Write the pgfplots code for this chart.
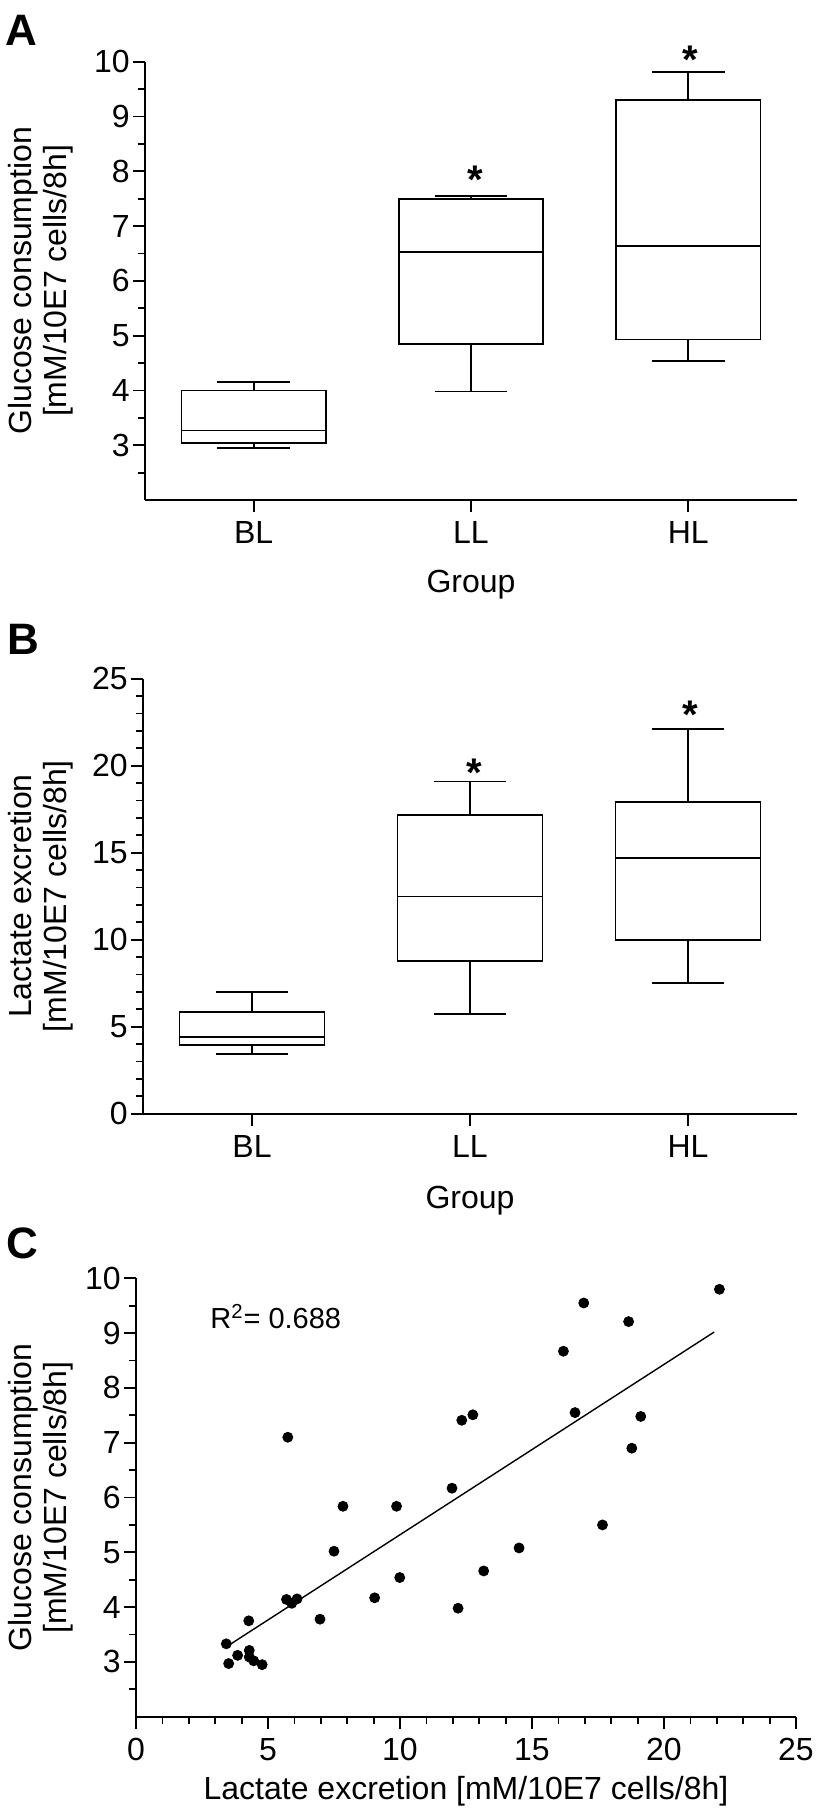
\documentclass[border=0pt]{standalone}
\usepackage{fontspec}
\setmainfont{Liberation Sans}
\usepackage{pgfplots}
\pgfplotsset{compat=1.18}
\usepgfplotslibrary{statistics}

\pgfplotsset{
  panel/.style={
    scale only axis,
    axis lines*=left,
    axis line style={-, line width=0.9pt},
    tick align=outside,
    major tick length=6pt,
    minor tick length=3.5pt,
    tick style={black, line width=0.9pt},
    tick label style={font=\fontsize{16}{16}\selectfont, inner sep=0pt},
    yticklabel style={xshift=-1.5pt},
    xticklabel style={yshift=-4.5pt},
    /pgf/number format/assume math mode=true,
    label style={font=\fontsize{16}{17.5}\selectfont, inner sep=0pt},
    ylabel style={align=center, anchor=south},
    xlabel style={anchor=north},
    clip=false,
  },
  bx/.style={black, solid, line width=0.85pt},
  star/.style={draw=none, nodes near coords={\fontsize{20}{20}\selectfont\bfseries *},
    every node near coord/.style={anchor=center, inner sep=0pt}},
}

\begin{document}
\begin{tikzpicture}
\path[use as bounding box] (0,0) rectangle (408pt,-907.5pt);

% Panel letters
\node[anchor=north west, inner sep=0pt, font=\fontsize{22}{22}\selectfont\bfseries] at (2.5pt,-7.5pt) {A};
\node[anchor=north west, inner sep=0pt, font=\fontsize{22}{22}\selectfont\bfseries] at (3.5pt,-312pt) {B};
\node[anchor=north west, inner sep=0pt, font=\fontsize{22}{22}\selectfont\bfseries] at (3pt,-613.5pt) {C};

% ---------------- Panel A ----------------
\begin{axis}[panel,
  at={(72.5pt,-250pt)}, anchor=south west,
  width=326pt, height=219.15pt,
  xmin=0.5, xmax=3.5, ymin=2, ymax=10,
  xtick={1,2,3}, xticklabels={BL,LL,HL},
  ytick={3,4,5,6,7,8,9,10},
  minor ytick={2.5,3.5,4.5,5.5,6.5,7.5,8.5,9.5},
  xlabel={Group},
  ylabel={Glucose consumption\\{[mM/10E7 cells/8h]}},
  xlabel style={at={(axis description cs:0.5,-0.158)}},
  ylabel style={at={(axis description cs:-0.1089,0.5)}},
  boxplot/draw direction=y,
  boxplot/box extend=0.664, boxplot/whisker extend=0.334,
]
\addplot[bx, boxplot prepared={draw position=1, lower whisker=2.95, lower quartile=3.04, median=3.27, upper quartile=4.00, upper whisker=4.15}] coordinates {};
\addplot[bx, boxplot prepared={draw position=2, lower whisker=3.98, lower quartile=4.85, median=6.53, upper quartile=7.49, upper whisker=7.55}] coordinates {};
\addplot[bx, boxplot prepared={draw position=3, lower whisker=4.54, lower quartile=4.93, median=6.64, upper quartile=9.30, upper whisker=9.81}] coordinates {};
\addplot[star] coordinates {(2.02,7.84) (3.01,10.03)};
\end{axis}

% ---------------- Panel B ----------------
\begin{axis}[panel,
  at={(71.5pt,-556.8pt)}, anchor=south west,
  width=327pt, height=217.5pt,
  xmin=0.5, xmax=3.5, ymin=0, ymax=25,
  xtick={1,2,3}, xticklabels={BL,LL,HL},
  ytick={0,5,10,15,20,25},
  minor y tick num=4,
  xlabel={Group},
  ylabel={Lactate excretion\\{[mM/10E7 cells/8h]}},
  xlabel style={at={(axis description cs:0.5,-0.1655)}},
  ylabel style={at={(axis description cs:-0.1055,0.5)}},
  boxplot/draw direction=y,
  boxplot/box extend=0.664, boxplot/whisker extend=0.334,
]
\addplot[bx, boxplot prepared={draw position=1, lower whisker=3.43, lower quartile=3.94, median=4.39, upper quartile=5.85, upper whisker=6.98}] coordinates {};
\addplot[bx, boxplot prepared={draw position=2, lower whisker=5.73, lower quartile=8.76, median=12.48, upper quartile=17.16, upper whisker=19.09}] coordinates {};
\addplot[bx, boxplot prepared={draw position=3, lower whisker=7.49, lower quartile=9.98, median=14.70, upper quartile=17.92, upper whisker=22.10}] coordinates {};
\addplot[star] coordinates {(2.02,19.6) (3.01,22.95)};
\end{axis}

% ---------------- Panel C ----------------
\begin{axis}[panel,
  at={(68pt,-858.35pt)}, anchor=south west,
  width=330pt, height=219.2pt,
  xmin=0, xmax=25, ymin=2, ymax=10,
  xtick={0,5,10,15,20,25}, minor x tick num=4,
  ytick={3,4,5,6,7,8,9,10},
  minor ytick={2.5,3.5,4.5,5.5,6.5,7.5,8.5,9.5},
  xlabel={Lactate excretion [mM/10E7 cells/8h]},
  ylabel={Glucose consumption\\{[mM/10E7 cells/8h]}},
  xlabel style={at={(axis description cs:0.5,-0.135)}},
  ylabel style={at={(axis description cs:-0.0939,0.5)}},
]
\addplot[only marks, mark=*, mark size=2.5pt, black] coordinates {
(22.10,9.80) (16.96,9.55) (18.66,9.21) (16.19,8.67) (16.63,7.55)
(12.34,7.41) (12.76,7.51) (19.12,7.48) (5.75,7.10) (18.78,6.90)
(11.97,6.17) (7.84,5.84) (9.87,5.84) (17.67,5.50) (7.50,5.02)
(14.51,5.08) (9.99,4.54) (13.17,4.66) (9.04,4.17) (12.20,3.98)
(5.70,4.14) (5.90,4.07) (6.10,4.15) (6.97,3.78) (4.27,3.75)
(3.42,3.33) (3.51,2.97) (3.85,3.12) (4.29,3.21) (4.29,3.09)
(4.46,3.02) (4.78,2.95)
};
\addplot[black, line width=0.7pt, mark=none] coordinates {(3.5,3.30) (21.9,9.02)};
\node[anchor=west, inner sep=0pt, font=\fontsize{14.5}{14.5}\selectfont] at (axis cs:2.8,9.3) {R\textsuperscript{2}= 0.688};
\end{axis}
\end{tikzpicture}
\end{document}
